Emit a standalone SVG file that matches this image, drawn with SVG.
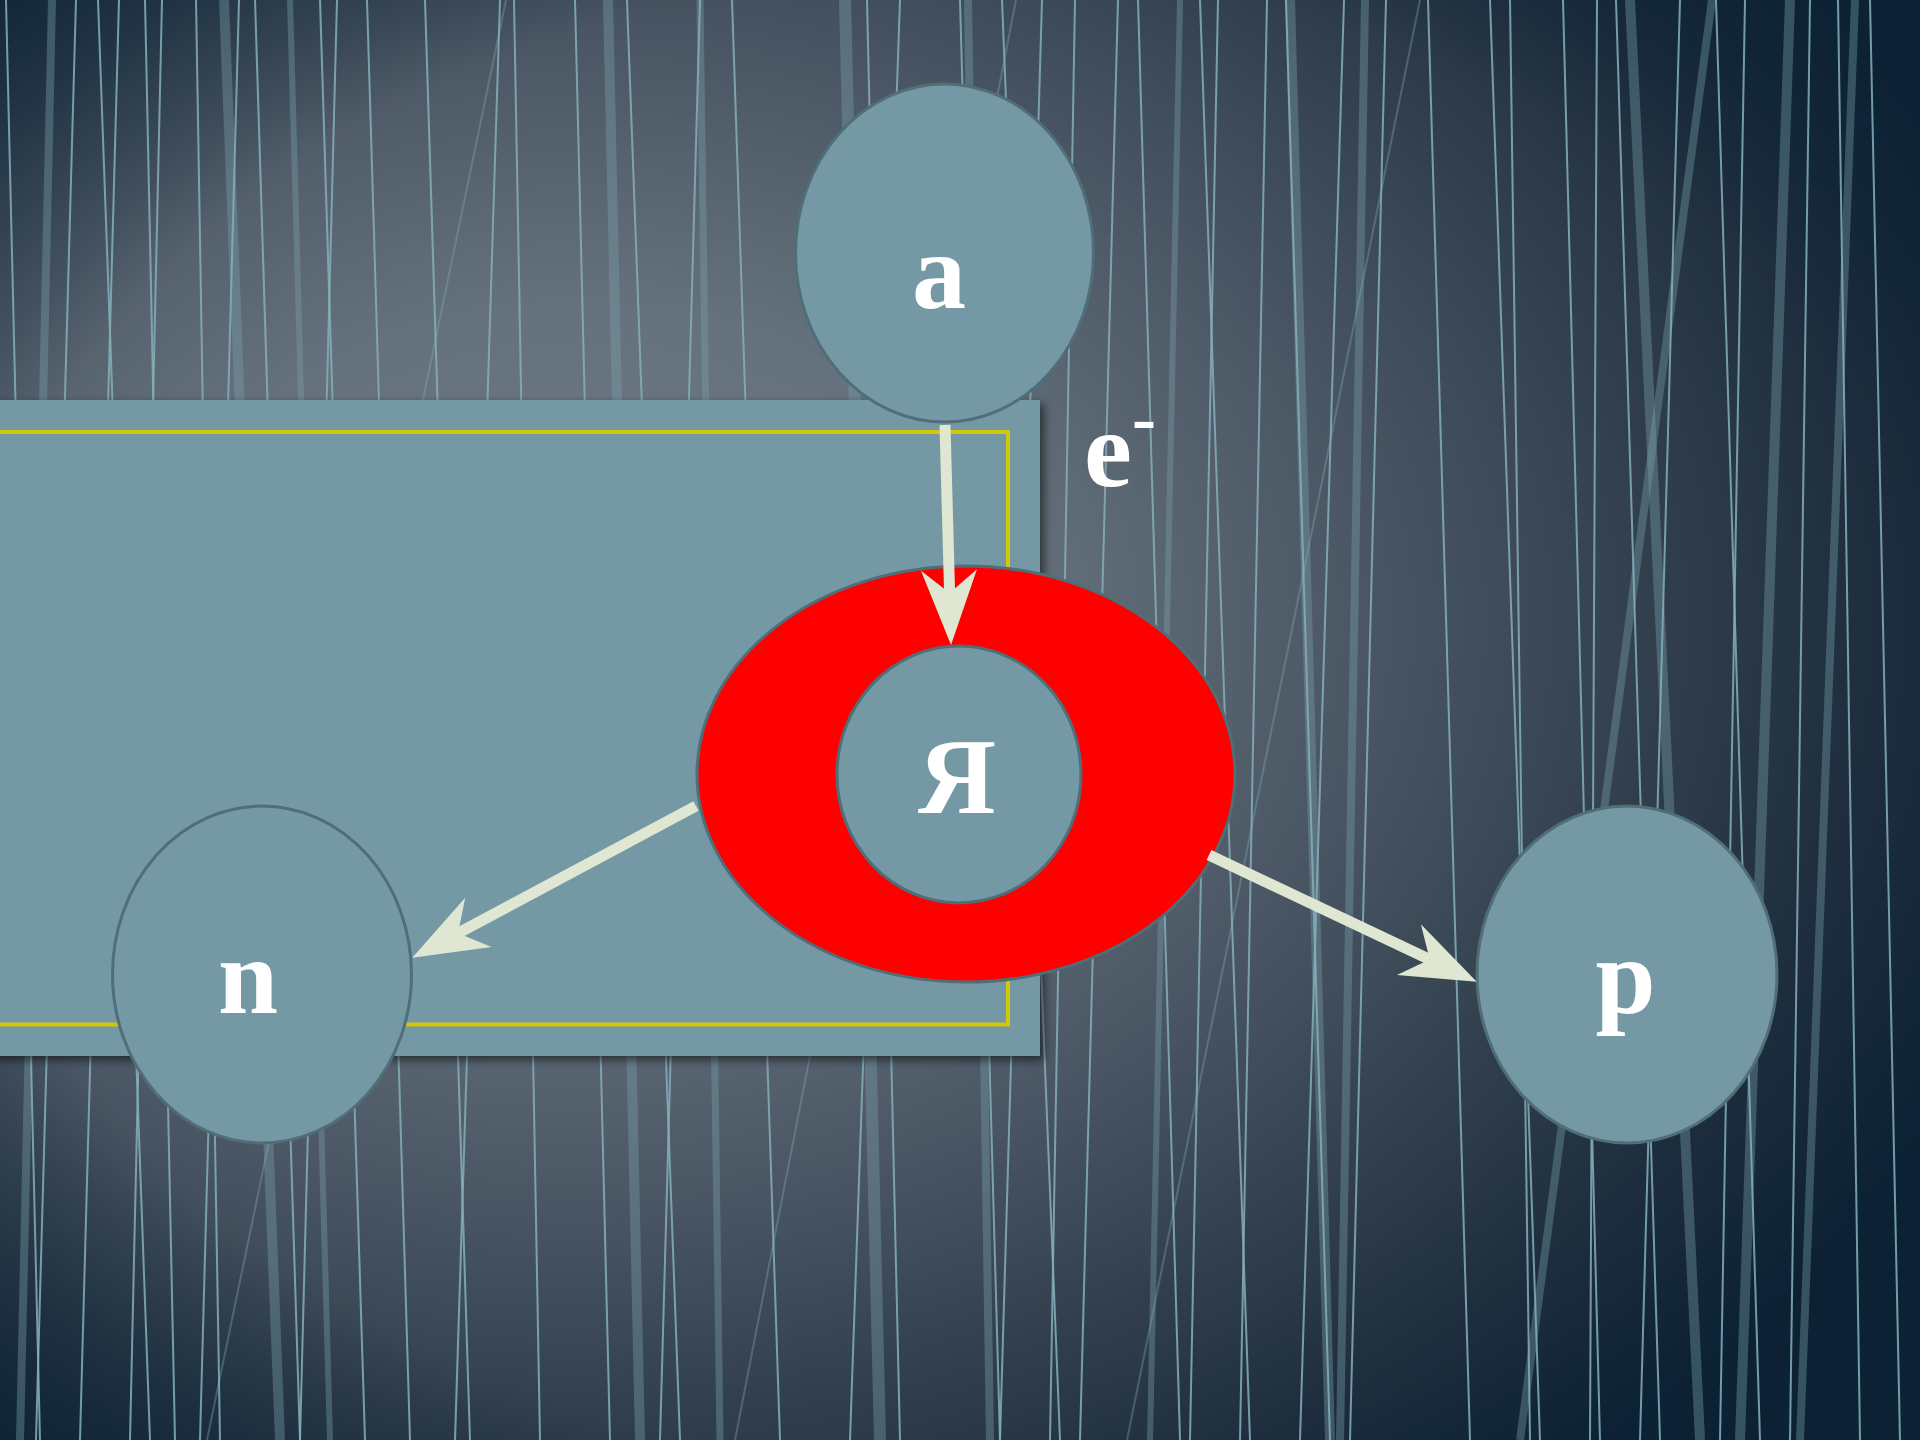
<svg xmlns="http://www.w3.org/2000/svg" width="1920" height="1440" viewBox="0 0 1920 1440">
<defs>
<radialGradient id="bg" gradientUnits="userSpaceOnUse" cx="580" cy="620" r="1120" gradientTransform="translate(580 620) scale(1.35 1) translate(-580 -620)">
<stop offset="0" stop-color="#6f7b85"/>
<stop offset="0.28" stop-color="#65717c"/>
<stop offset="0.52" stop-color="#4a5663"/>
<stop offset="0.72" stop-color="#303e4c"/>
<stop offset="0.86" stop-color="#1d2d3d"/>
<stop offset="1" stop-color="#0c2234"/>
</radialGradient>
<radialGradient id="vignette" cx="0.5" cy="0.5" r="0.72">
<stop offset="0" stop-color="#0c2234" stop-opacity="0"/>
<stop offset="0.72" stop-color="#0c2234" stop-opacity="0"/>
<stop offset="1" stop-color="#0c2234" stop-opacity="0.9"/>
</radialGradient>
<filter id="shadow" x="-5%" y="-5%" width="115%" height="115%">
<feDropShadow dx="4" dy="4" stdDeviation="5" flood-color="#000" flood-opacity="0.55"/>
</filter>
<marker id="head" markerUnits="userSpaceOnUse" markerWidth="90" markerHeight="70" viewBox="-30 -35 90 70" refX="0" refY="0" orient="auto">
<path d="M52,0 L-23,-28 L0,0 L-23,28 Z" fill="#dfe6d1"/>
</marker>
<style>
.thin{stroke:#86afbb;stroke-width:2;opacity:0.85}
.thick{stroke:#7ba2ae;opacity:0.38}
.faint{stroke:#86afbb;stroke-width:2;opacity:0.35}
.node{fill:#7599a4;stroke:#4f6e78;stroke-width:3}
.lbl{font-family:"Liberation Serif",serif;font-weight:bold;font-size:108px;fill:#ffffff;text-anchor:middle}
.edge{stroke:#dfe6d1;stroke-width:11;fill:none;marker-end:url(#head)}
</style>
</defs>
<rect x="0" y="0" width="1920" height="1440" fill="url(#bg)"/>
<rect x="0" y="0" width="1920" height="1440" fill="url(#vignette)"/>
<g id="texture">
<line class="thick" x1="52" y1="0" x2="20" y2="1440" stroke-width="8"/>
<line class="thick" x1="224" y1="0" x2="280" y2="1440" stroke-width="10"/>
<line class="thick" x1="290" y1="0" x2="330" y2="1440" stroke-width="6"/>
<line class="thick" x1="608" y1="0" x2="640" y2="1440" stroke-width="10"/>
<line class="thick" x1="845" y1="0" x2="880" y2="1440" stroke-width="12"/>
<line class="thick" x1="968" y1="0" x2="990" y2="1440" stroke-width="8"/>
<line class="thick" x1="1290" y1="0" x2="1330" y2="1440" stroke-width="10"/>
<line class="thick" x1="1365" y1="0" x2="1340" y2="1440" stroke-width="8"/>
<line class="thick" x1="1630" y1="0" x2="1700" y2="1440" stroke-width="10"/>
<line class="thick" x1="1712" y1="0" x2="1520" y2="1440" stroke-width="8"/>
<line class="thick" x1="1790" y1="0" x2="1740" y2="1440" stroke-width="10"/>
<line class="thick" x1="1855" y1="0" x2="1800" y2="1440" stroke-width="8"/>
<line class="thick" x1="1180" y1="0" x2="1150" y2="1440" stroke-width="6"/>
<line class="thick" x1="700" y1="0" x2="720" y2="1440" stroke-width="7"/>
<line class="faint" x1="506" y1="0" x2="207" y2="1440"/>
<line class="faint" x1="1016" y1="0" x2="735" y2="1440"/>
<line class="faint" x1="1420" y1="0" x2="1127" y2="1440"/>
<line class="thin" x1="6" y1="0" x2="40" y2="1440"/>
<line class="thin" x1="76" y1="0" x2="36" y2="1440"/>
<line class="thin" x1="98" y1="0" x2="150" y2="1440"/>
<line class="thin" x1="119" y1="0" x2="80" y2="1440"/>
<line class="thin" x1="145" y1="0" x2="175" y2="1440"/>
<line class="thin" x1="162" y1="0" x2="130" y2="1440"/>
<line class="thin" x1="196" y1="0" x2="220" y2="1440"/>
<line class="thin" x1="239" y1="0" x2="200" y2="1440"/>
<line class="thin" x1="255" y1="0" x2="300" y2="1440"/>
<line class="thin" x1="320" y1="0" x2="365" y2="1440"/>
<line class="thin" x1="337" y1="0" x2="300" y2="1440"/>
<line class="thin" x1="367" y1="0" x2="410" y2="1440"/>
<line class="thin" x1="425" y1="0" x2="470" y2="1440"/>
<line class="thin" x1="500" y1="0" x2="455" y2="1440"/>
<line class="thin" x1="514" y1="0" x2="540" y2="1440"/>
<line class="thin" x1="575" y1="0" x2="610" y2="1440"/>
<line class="thin" x1="627" y1="0" x2="680" y2="1440"/>
<line class="thin" x1="700" y1="0" x2="660" y2="1440"/>
<line class="thin" x1="732" y1="0" x2="780" y2="1440"/>
<line class="thin" x1="867" y1="0" x2="900" y2="1440"/>
<line class="thin" x1="900" y1="0" x2="850" y2="1440"/>
<line class="thin" x1="960" y1="0" x2="1000" y2="1440"/>
<line class="thin" x1="1002" y1="0" x2="1060" y2="1440"/>
<line class="thin" x1="1042" y1="0" x2="1000" y2="1440"/>
<line class="thin" x1="1075" y1="0" x2="1050" y2="1440"/>
<line class="thin" x1="1118" y1="0" x2="1080" y2="1440"/>
<line class="thin" x1="1138" y1="0" x2="1180" y2="1440"/>
<line class="thin" x1="1200" y1="0" x2="1250" y2="1440"/>
<line class="thin" x1="1218" y1="0" x2="1190" y2="1440"/>
<line class="thin" x1="1267" y1="0" x2="1240" y2="1440"/>
<line class="thin" x1="1286" y1="0" x2="1330" y2="1440"/>
<line class="thin" x1="1344" y1="0" x2="1300" y2="1440"/>
<line class="thin" x1="1386" y1="0" x2="1350" y2="1440"/>
<line class="thin" x1="1428" y1="0" x2="1470" y2="1440"/>
<line class="thin" x1="1490" y1="0" x2="1540" y2="1440"/>
<line class="thin" x1="1510" y1="0" x2="1530" y2="1440"/>
<line class="thin" x1="1563" y1="0" x2="1600" y2="1440"/>
<line class="thin" x1="1597" y1="0" x2="1590" y2="1440"/>
<line class="thin" x1="1616" y1="0" x2="1660" y2="1440"/>
<line class="thin" x1="1680" y1="0" x2="1640" y2="1440"/>
<line class="thin" x1="1716" y1="0" x2="1760" y2="1440"/>
<line class="thin" x1="1745" y1="0" x2="1720" y2="1440"/>
<line class="thin" x1="1810" y1="0" x2="1790" y2="1440"/>
<line class="thin" x1="1838" y1="0" x2="1860" y2="1440"/>
<line class="thin" x1="1870" y1="0" x2="1900" y2="1440"/>
</g>
<g id="panel">
<rect x="-20" y="400" width="1060" height="656" fill="#7599a4" filter="url(#shadow)"/>
<polyline points="-10,432 1008,432 1008,1024.5 -10,1024.5" fill="none" stroke="#d5c609" stroke-width="4"/>
</g>
<g id="node-a">
<ellipse class="node" cx="944.5" cy="253" rx="149" ry="169"/>
<text class="lbl" x="939" y="308">a</text>
</g>
<g id="node-ya">
<ellipse cx="966" cy="774" rx="269" ry="208" fill="#ff0000" stroke="#4f6e78" stroke-width="3"/>
<ellipse class="node" cx="959" cy="774.5" rx="122" ry="128.5"/>
<text class="lbl" x="957" y="813">Я</text>
</g>
<g id="node-n">
<ellipse class="node" cx="262" cy="974.5" rx="149.5" ry="168.5"/>
<text class="lbl" x="248" y="1013">n</text>
</g>
<g id="node-p">
<ellipse class="node" cx="1627" cy="974.5" rx="150" ry="168.5"/>
<text class="lbl" x="1625.5" y="1013">p</text>
</g>
<g id="label-e">
<text font-family="Liberation Serif, serif" font-weight="bold" font-size="108" fill="#ffffff" x="1084" y="486">e<tspan font-size="72" dy="-44">-</tspan></text>
</g>
<g id="connectors">
<line class="edge" x1="945" y1="425" x2="949.6" y2="593"/>
<line class="edge" x1="696" y1="806" x2="458.1" y2="933.2"/>
<line class="edge" x1="1209" y1="855" x2="1429.7" y2="959.5"/>
</g>
</svg>
